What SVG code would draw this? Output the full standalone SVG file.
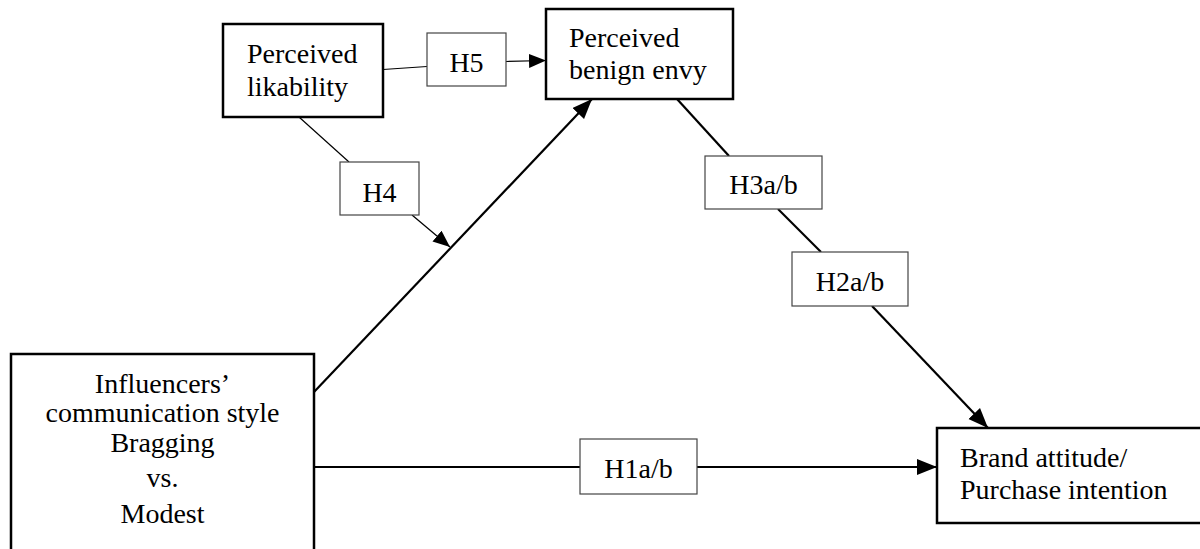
<svg xmlns="http://www.w3.org/2000/svg" width="1200" height="549" viewBox="0 0 1200 549">
<style>
.node{fill:#fff;stroke:#000;stroke-width:2.5}
.lbl{fill:#fff;stroke:#444;stroke-width:1.2}
.t{font-family:"Liberation Serif","Times New Roman",serif;font-size:28px;fill:#000}
.c{text-anchor:middle}
.thin{stroke:#000;stroke-width:1.2;fill:none}
.thick{stroke:#000;stroke-width:2.2;fill:none}
</style>
<defs>
<marker id="ah" markerUnits="userSpaceOnUse" markerWidth="22" markerHeight="18" refX="20" refY="8" orient="auto">
<path d="M0,0 L20,8 L0,16 z" fill="#000"/>
</marker>
<marker id="ahs" markerUnits="userSpaceOnUse" markerWidth="18" markerHeight="16" refX="17" refY="7" orient="auto">
<path d="M0,0 L17,7 L0,14 z" fill="#000"/>
</marker>
</defs>
<rect width="1200" height="549" fill="#fff"/>
<g id="connectors">
<line class="thin" x1="383" y1="69.5" x2="427" y2="66.5"/>
<line class="thin" x1="506" y1="61.5" x2="546" y2="60.5" marker-end="url(#ahs)"/>
<line class="thin" x1="299" y1="117" x2="349" y2="162"/>
<line class="thin" x1="412" y1="215" x2="450" y2="247" marker-end="url(#ahs)"/>
<line class="thick" x1="314" y1="392" x2="592" y2="99" marker-end="url(#ah)"/>
<line class="thick" x1="677" y1="99" x2="729" y2="156"/>
<line class="thick" x1="778" y1="209" x2="821" y2="252"/>
<line class="thick" x1="872" y1="306" x2="988" y2="428" marker-end="url(#ah)"/>
<line class="thick" x1="314" y1="467" x2="580" y2="467"/>
<line class="thick" x1="697" y1="467" x2="937" y2="467" marker-end="url(#ah)"/>
</g>
<g id="likability">
<rect class="node" x="223" y="24" width="160" height="93"/>
<text class="t" x="247" y="63">Perceived</text>
<text class="t" x="247" y="96">likability</text>
</g>
<g id="envy">
<rect class="node" x="546" y="9" width="187" height="90"/>
<text class="t" x="569" y="47">Perceived</text>
<text class="t" x="569" y="79">benign envy</text>
</g>
<g id="influencers">
<rect class="node" x="11" y="354" width="303" height="220"/>
<text class="t c" x="162.5" y="393">Influencers’</text>
<text class="t c" x="162.5" y="422">communication style</text>
<text class="t c" x="162.5" y="452">Bragging</text>
<text class="t c" x="162.5" y="487">vs.</text>
<text class="t c" x="162.5" y="523">Modest</text>
</g>
<g id="brand">
<rect class="node" x="937" y="428" width="275" height="95"/>
<text class="t" x="960" y="467">Brand attitude/</text>
<text class="t" x="960" y="499">Purchase intention</text>
</g>
<g id="h5">
<rect class="lbl" x="427" y="33" width="79" height="53"/>
<text class="t c" x="466.5" y="72">H5</text>
</g>
<g id="h4">
<rect class="lbl" x="340" y="162" width="79" height="53"/>
<text class="t c" x="379.5" y="202">H4</text>
</g>
<g id="h3">
<rect class="lbl" x="705" y="156" width="117" height="53"/>
<text class="t c" x="763.5" y="194">H3a/b</text>
</g>
<g id="h2">
<rect class="lbl" x="792" y="252" width="116" height="54"/>
<text class="t c" x="850" y="291">H2a/b</text>
</g>
<g id="h1">
<rect class="lbl" x="580" y="439" width="117" height="55"/>
<text class="t c" x="638.5" y="478">H1a/b</text>
</g>
</svg>
